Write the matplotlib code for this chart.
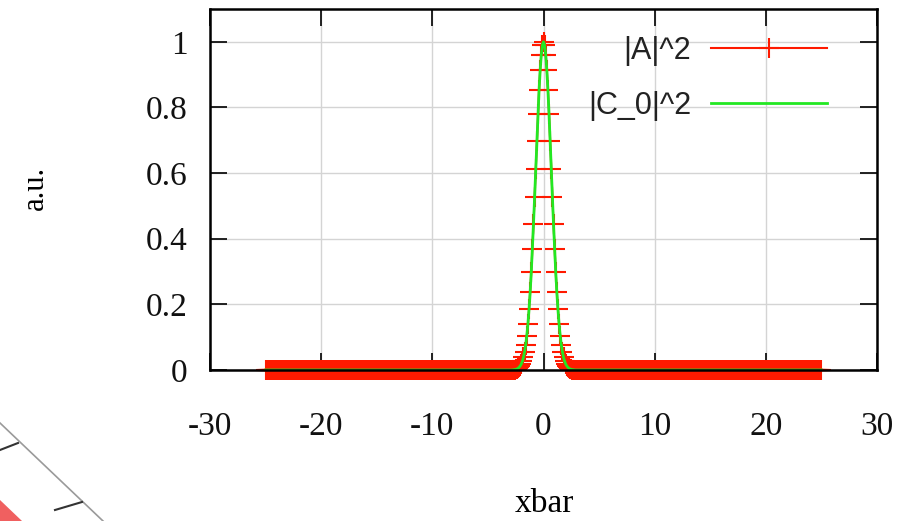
import numpy as np
import matplotlib
matplotlib.use("Agg")
import matplotlib.pyplot as plt
from matplotlib.lines import Line2D
from matplotlib.patches import Polygon

# sample grid of the simulation (step 0.1 from -25 to 25)
x_step = 0.1
x_min, x_max = -25.0, 25.0

peak_half = [1.000, 0.990, 0.961, 0.914, 0.852, 0.779, 0.698, 0.613, 0.527, 0.445,
             0.368, 0.298, 0.237, 0.185, 0.141, 0.105, 0.077, 0.056, 0.039, 0.027,
             0.018, 0.012, 0.008, 0.005, 0.003, 0.002, 0.001, 0.001, 0.000, 0.000,
             0.000]
tail = [0.0] * 220   # flat zero from |x| = 3.1 out to 25

a_sq = tail + peak_half[:0:-1] + peak_half + tail
c0_sq = list(a_sq)   # |C_0|^2 lies on top of |A|^2

xvals = np.round(np.linspace(x_min, x_max, len(a_sq)), 1)

plt.rcParams['axes.unicode_minus'] = False
plt.rcParams['font.family'] = 'Liberation Serif'

fig = plt.figure(figsize=(9.02, 5.21), dpi=100)
ax = fig.add_axes([0.2328, 0.2898, 0.7395, 0.6929])

ax.plot(xvals, a_sq, color='#ff1a00', linewidth=1.5, marker='+', markersize=14,
        markeredgewidth=1.5, label='|A|^2', zorder=3, clip_on=False)
ax.plot(xvals, c0_sq, color='#22e822', linewidth=2, label='|C_0|^2', zorder=4)

ax.set_xlim(-30, 30)
ax.set_ylim(0, 1.1)
ax.set_xticks([-30, -20, -10, 0, 10, 20, 30])
ax.set_yticks([0, 0.2, 0.4, 0.6, 0.8, 1])
ax.set_yticklabels(['0', '0.2', '0.4', '0.6', '0.8', '1'])
ax.grid(True, color='#d4d4d4', linewidth=1)
ax.set_axisbelow(True)
ax.tick_params(direction='in', length=12, width=1.3, top=True, right=True,
               labelsize=24, colors='#111111')
ax.tick_params(axis='x', pad=30)
ax.tick_params(axis='y', pad=16)
for s in ax.spines.values():
    s.set_linewidth(1.8)
    s.set_zorder(5)

fig.text(0.039, 0.64, 'a.u.', rotation=90, fontsize=22, ha='center', va='center')
fig.text(0.603, 0.033, 'xbar', fontsize=24, ha='center', va='center')

leg = ax.legend(loc='upper right', bbox_to_anchor=(0.925, 0.925), frameon=False,
                markerfirst=False, handlelength=3.8, handletextpad=0.65,
                labelspacing=0.8, borderpad=0, borderaxespad=0,
                prop={'family': 'Liberation Sans', 'size': 22})
for t in leg.get_texts():
    t.set_color('#222222')

# edge of a neighbouring figure showing in the bottom-left corner
W, H = 902.0, 521.0
fig.add_artist(Line2D([0 / W, 103 / W], [1 - 423 / H, 1 - 521 / H], color='#9a9a9a', linewidth=1.2))
fig.add_artist(Line2D([0 / W, 18 / W], [1 - 450 / H, 1 - 443 / H], color='#333333', linewidth=1.5))
fig.add_artist(Line2D([55 / W, 82 / W], [1 - 510 / H, 1 - 502 / H], color='#333333', linewidth=1.5))
fig.add_artist(Polygon([[0, 1 - 500 / H], [0, 0], [22 / W, 0]], closed=True,
                       facecolor='#f06060', edgecolor='none', transform=fig.transFigure))

fig.savefig('out.png', dpi=100)
